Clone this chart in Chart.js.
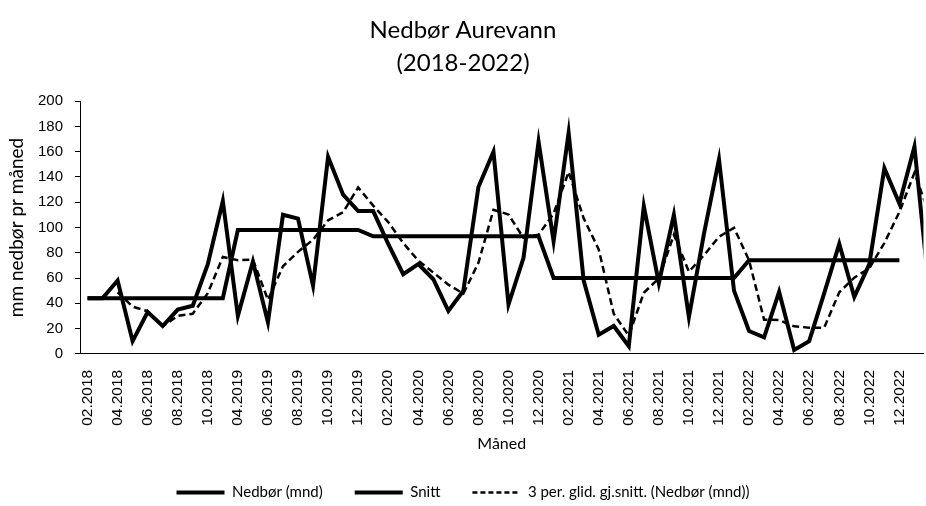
<!DOCTYPE html>
<html>
<head>
<meta charset="UTF-8">
<title>Nedbør Aurevann</title>
<style>
  html, body { margin: 0; padding: 0; background: #fff; overflow: hidden; }
</style>
</head>
<body>
<script src="https://cdn.jsdelivr.net/npm/chart.js@4/dist/chart.umd.min.js"></script>

<canvas id="rainChart" width="926" height="506"></canvas>

<script>
// months on the category axis (no data between 11.2018 and 04.2019)
var months = ['02.2018', '03.2018', '04.2018', '05.2018', '06.2018', '07.2018', '08.2018', '09.2018', '10.2018', '11.2018',
  '04.2019', '05.2019', '06.2019', '07.2019', '08.2019', '09.2019', '10.2019', '11.2019', '12.2019',
  '01.2020', '02.2020', '03.2020', '04.2020', '05.2020', '06.2020', '07.2020', '08.2020', '09.2020', '10.2020', '11.2020', '12.2020',
  '01.2021', '02.2021', '03.2021', '04.2021', '05.2021', '06.2021', '07.2021', '08.2021', '09.2021', '10.2021', '11.2021', '12.2021',
  '01.2022', '02.2022', '03.2022', '04.2022', '05.2022', '06.2022', '07.2022', '08.2022', '09.2022', '10.2022', '11.2022', '12.2022',
  '01.2023', '02.2023'];

// Nedbør (mnd), mm
var rain = [44, 44, 58, 10, 33, 22, 35, 38, 71, 121,
  30, 73, 25, 110, 107, 54, 156, 126, 113,
  113, 87, 63, 71, 59, 34, 50, 132, 160, 39, 76, 168,
  89, 175, 58, 15, 22, 6, 117, 56, 110, 29, 95, 154,
  50, 18, 13, 49, 3, 10, 48, 87, 45, 71, 147, 119,
  164, 47];

// Snitt (average per year)
var snitt = [44, 44, 44, 44, 44, 44, 44, 44, 44, 44,
  98, 98, 98, 98, 98, 98, 98, 98, 98,
  93, 93, 93, 93, 93, 93, 93, 93, 93, 93, 93, 93,
  60, 60, 60, 60, 60, 60, 60, 60, 60, 60, 60, 60,
  60, 74, 74, 74, 74, 74, 74, 74, 74, 74, 74, 74,
  null, null];

// 3 per. glid. gj.snitt. (dashed trend line)
var glidSnitt = [null, null, 48.7, 37.3, 33.7, 21.7, 30, 31.7, 48, 76.7,
  74, 74.7, 42.7, 69.3, 80.7, 90.3, 105.7, 112, 131.7,
  117.3, 104.3, 87.7, 73.7, 64.3, 54.7, 47.7, 72, 114, 110.3, 91.7, 94.3,
  111, 144, 107.3, 82.7, 31.7, 14.3, 48.3, 59.7, 94.3, 65, 78, 92.7,
  99.7, 74, 27, 26.7, 21.7, 20.7, 20.7, 48.7, 60.3, 67.7, 87.7, 112.3,
  143.3, 110];

var yMax = 200, yStep = 20;

function points(arr) {
  return arr.map(function (v, i) { return { x: i, y: v }; });
}

var titleFont = 'Lato, "Open Sans", sans-serif';
var tickFont = '"Liberation Sans", Arial, sans-serif';

var ctx = document.getElementById('rainChart').getContext('2d');
var rainChart = new Chart(ctx, {
  type: 'line',
  data: {
    datasets: [{
      label: 'Nedbør (mnd)',
      data: points(rain),
      borderColor: '#000',
      backgroundColor: '#000',
      borderWidth: 4,
      pointRadius: 0,
      tension: 0
    }, {
      label: 'Snitt',
      data: points(snitt),
      borderColor: '#000',
      backgroundColor: '#000',
      borderWidth: 4,
      pointRadius: 0,
      tension: 0
    }, {
      label: '3 per. glid. gj.snitt. (Nedbør (mnd))',
      data: points(glidSnitt),
      borderColor: '#000',
      backgroundColor: '#000',
      borderWidth: 2.5,
      borderDash: [7, 4],
      pointRadius: 0,
      tension: 0
    }]
  },
  options: {
    responsive: false,
    animation: false,
    devicePixelRatio: 1,
    layout: { padding: { left: 0, right: 0, top: 0, bottom: -4 } },
    plugins: {
      title: {
        display: true,
        text: ['Nedbør Aurevann', '(2018-2022)'],
        color: '#000',
        font: { family: titleFont, size: 24, weight: 'normal', lineHeight: 1.4 },
        padding: { top: 13, bottom: 21 }
      },
      legend: {
        position: 'bottom',
        labels: {
          usePointStyle: true,
          pointStyle: 'line',
          pointStyleWidth: 48,
          color: '#000',
          font: { family: titleFont, size: 15 },
          padding: 32,
          // legend line samples take width and dash from the dataset
          generateLabels: function (chart) {
            var items = Chart.defaults.plugins.legend.labels.generateLabels(chart);
            items.forEach(function (it) {
              var ds = chart.data.datasets[it.datasetIndex];
              it.lineWidth = ds.borderWidth;
              it.lineDash = ds.borderDash ? [5, 3] : [];
            });
            return items;
          }
        }
      },
      tooltip: { enabled: false }
    },
    scales: {
      x: {
        type: 'linear',
        bounds: 'data',
        min: -0.5,
        max: 55.6,
        afterBuildTicks: function (scale) {
          var t = [];
          for (var i = 0; i <= scale.max; i += 2) t.push({ value: i });
          scale.ticks = t;
        },
        ticks: {
          autoSkip: false,
          minRotation: 90,
          maxRotation: 90,
          padding: 8,
          color: '#000',
          font: { family: tickFont, size: 15.5 },
          callback: function (v) { return months[v]; }
        },
        grid: { display: false },
        border: { display: true, color: '#000', width: 1 },
        title: {
          display: true,
          text: 'Måned',
          color: '#000',
          font: { family: titleFont, size: 16, lineHeight: 1.2 },
          padding: { top: 0, bottom: 0 }
        }
      },
      y: {
        min: 0,
        max: yMax,
        ticks: {
          stepSize: yStep,
          padding: 12,
          color: '#000',
          font: { family: tickFont, size: 15 }
        },
        grid: { drawOnChartArea: false, drawTicks: true, tickLength: 5, color: '#000' },
        border: { display: true, color: '#000', width: 1 },
        title: {
          display: true,
          text: 'mm nedbør pr måned',
          color: '#000',
          font: { family: titleFont, size: 19 },
          padding: { top: 5, bottom: 4 }
        },
        afterFit: function (scale) { scale.width = 80; }
      }
    }
  }
});
</script>
</body>
</html>
